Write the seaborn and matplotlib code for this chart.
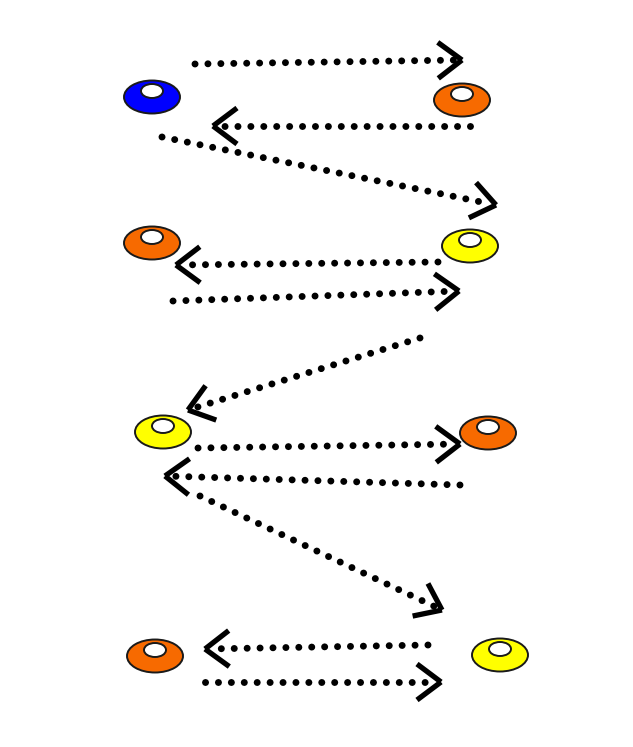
import numpy as np
import matplotlib
matplotlib.use("Agg")
import matplotlib.pyplot as plt
from matplotlib.patches import Ellipse
import seaborn as sns

sns.set_theme(style="white")

# cone positions (pixel space, y down) and colours
cone_x = [152, 462, 152, 470, 163, 488, 155, 500]
cone_y = [97, 100, 243, 246, 432, 433, 656, 655]
cone_color = ["#0000ff", "#f76a00", "#f76a00", "#ffff00",
              "#ffff00", "#f76a00", "#f76a00", "#ffff00"]

# dotted runs: start -> tip
run_x0 = [195, 470, 162, 438, 173, 420, 198, 460, 200, 428, 205]
run_y0 = [64, 126, 137, 262, 301, 338, 448, 485, 496, 645, 682]
run_x1 = [462, 213, 496, 176, 459, 188, 460, 165, 442, 205, 441]
run_y1 = [60, 126, 205, 265, 291, 410, 444, 476, 610, 649, 682]

fig = plt.figure(figsize=(6.33, 7.47), dpi=100)
ax = fig.add_axes([0, 0, 1, 1])
ax.set_xlim(0, 633)
ax.set_ylim(747, 0)
ax.set_aspect("equal")
ax.axis("off")

for x0, y0, x1, y1 in zip(run_x0, run_y0, run_x1, run_y1):
    d = np.array([x1 - x0, y1 - y0], dtype=float)
    u = d / np.hypot(*d)
    end = np.array([x1, y1]) - u * 8
    ax.plot([x0, end[0]], [y0, end[1]], color="black", lw=5,
            linestyle=(0, (0.01, 1.85)), dash_capstyle="round")
    # open chevron head
    n = np.array([-u[1], u[0]])
    for s in (1, -1):
        arm = np.array([x1, y1]) - u * 24 + s * n * 18
        ax.plot([arm[0], x1], [arm[1], y1], color="black", lw=3.8,
                solid_capstyle="butt", solid_joinstyle="miter")

for x, y, c in zip(cone_x, cone_y, cone_color):
    ax.add_patch(Ellipse((x, y), 56, 33, facecolor=c, edgecolor="#1a1a1a",
                         lw=1.4, zorder=3))
    ax.add_patch(Ellipse((x, y - 6), 22, 14, facecolor="white",
                         edgecolor="#1a1a1a", lw=1.4, zorder=4))

fig.savefig("out.png", dpi=100)
